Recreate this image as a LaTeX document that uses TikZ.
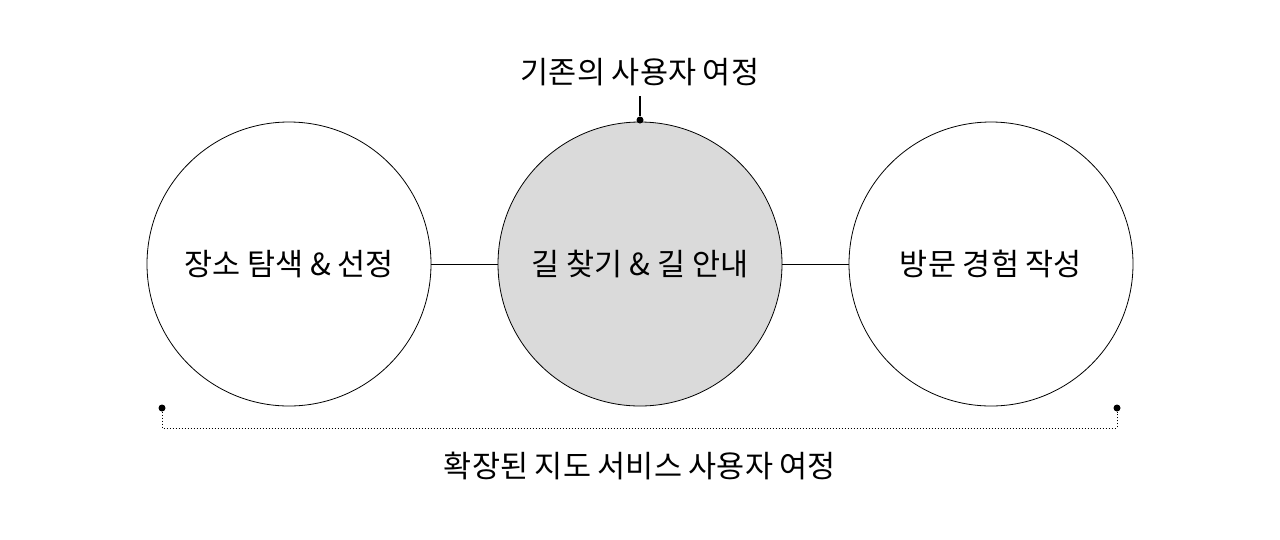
\documentclass[tikz,border=0pt]{standalone}
\usepackage{fontspec}
\setmainfont{Noto Sans CJK KR}
\begin{document}
\begin{tikzpicture}[x=1pt,y=-1pt,
  circ/.style={draw,circle,minimum size=284pt,inner sep=0pt,line width=0.8pt},
  lbl/.style={font=\fontsize{30.5}{34}\selectfont},
  dotc/.style={fill,circle,inner sep=0pt,minimum size=7pt}]
\useasboundingbox (0,0) rectangle (1280,539);
\node[circ,lbl] (a) at (289,264) {장소 탐색 \& 선정};
\node[circ,lbl,fill={rgb,255:red,218;green,218;blue,218}] (b) at (640,264) {길 찾기 \& 길 안내};
\node[circ,lbl] (c) at (991,264) {방문 경험 작성};
\draw[line width=0.8pt] (a) -- (b);
\draw[line width=0.8pt] (b) -- (c);
\node[lbl] (t) at (640,72) {기존의 사용자 여정};
\node[dotc] (td) at (640,120) {};
\draw[line width=1.2pt] (640,96) -- (td);
\node[dotc] (l) at (162,408) {};
\node[dotc] (r) at (1117,408) {};
\draw[dotted,line width=1pt] (l) |- (640,428) -| (r);
\node[lbl] (bt) at (640,466) {확장된 지도 서비스 사용자 여정};
\end{tikzpicture}
\end{document}
